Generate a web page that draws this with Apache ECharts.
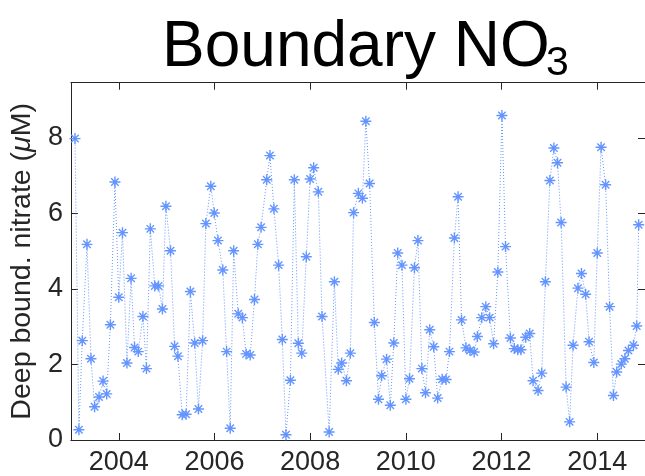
<!DOCTYPE html>
<html>
<head>
<meta charset="utf-8">
<script src="https://cdn.jsdelivr.net/npm/echarts@6/dist/echarts.min.js"></script>
<style>
html,body{margin:0;padding:0;background:#fff;}
#c{width:645px;height:476px;}
</style>
</head>
<body>
<div id="c"></div>
<script>
// Decimal year of each sample
const years = [
2003.085,2003.167,2003.237,2003.336,2003.419,2003.495,2003.588,2003.672,2003.748,2003.825,2003.920,
2004.000,2004.078,2004.171,2004.258,2004.330,2004.408,2004.505,2004.579,2004.660,2004.753,2004.831,2004.913,2004.986,
2005.082,2005.167,2005.237,2005.326,2005.408,2005.497,2005.588,2005.666,2005.753,2005.821,2005.924,2005.996,
2006.074,2006.175,2006.254,2006.330,2006.402,2006.497,2006.584,2006.662,2006.748,2006.837,2006.907,2006.975,
2007.093,2007.161,2007.243,2007.342,2007.419,2007.495,2007.588,2007.670,2007.753,2007.825,2007.920,2008.000,
2008.074,2008.171,2008.249,2008.398,2008.507,2008.588,2008.660,2008.759,2008.841,2008.909,
2009.008,2009.093,2009.165,2009.243,2009.342,2009.429,2009.495,2009.598,2009.676,2009.749,2009.831,2009.920,
2010.002,2010.078,2010.181,2010.254,2010.336,2010.412,2010.501,2010.584,2010.666,2010.759,2010.841,2010.913,
2011.016,2011.093,2011.165,2011.258,2011.342,2011.429,2011.497,2011.588,2011.672,2011.753,2011.835,2011.924,
2012.010,2012.085,2012.186,2012.268,2012.340,2012.408,2012.507,2012.590,2012.660,2012.765,2012.841,2012.918,
2013.012,2013.095,2013.171,2013.247,2013.351,2013.425,2013.497,2013.598,2013.672,2013.759,2013.831,2013.930,
2014.002,2014.082,2014.177,2014.260,2014.340,2014.408,2014.505,2014.579,2014.654,2014.759,2014.827,2014.868
];
// Deep boundary nitrate (uM)
const nitrate = [
7.98,0.27,2.63,5.18,2.15,0.88,1.14,1.56,1.22,3.05,6.83,
3.78,5.49,2.04,4.28,2.45,2.34,3.27,1.89,5.59,4.08,4.08,3.47,6.19,
5.01,2.48,2.22,0.67,0.68,3.93,2.57,0.82,2.63,5.73,6.72,6.01,
5.28,4.50,2.34,0.31,5.01,3.34,3.24,2.28,2.25,3.72,5.18,5.63,
6.89,7.53,6.12,4.63,2.66,0.14,1.58,6.89,2.56,2.30,4.85,6.91,
7.21,6.57,3.27,0.21,4.19,1.87,2.04,1.57,2.30,6.02,
6.53,6.40,8.44,6.79,3.11,1.08,1.70,2.14,0.92,2.57,4.95,4.63,
1.08,1.62,4.56,5.28,1.89,1.25,2.92,2.47,1.11,1.61,1.60,2.34,
5.35,6.44,3.18,2.44,2.37,2.33,2.74,3.24,3.53,3.24,2.55,4.45,
8.59,5.12,2.70,2.42,2.39,2.39,2.72,2.82,1.57,1.31,1.77,4.19,
6.87,7.73,7.34,5.76,1.40,0.48,2.51,4.02,4.41,3.86,2.60,2.05,
4.95,7.75,6.76,3.53,1.18,1.80,2.01,2.15,2.37,2.51,3.02,5.70
];
const xTicks = [2004, 2006, 2008, 2010, 2012, 2014];
const yTicks = [0, 2, 4, 6, 8];

const FONT = 'Liberation Sans, Arial, Helvetica, sans-serif';
const AX = '#262626';
const BLUE = '#6495ff';
const chart = echarts.init(document.getElementById('c'), null, {renderer: 'canvas'});
const pts = years.map((y, i) => [y, nitrate[i]]);
const star = 'path://M5 0L5 10M0 5L10 5M1.6 1.6L8.4 8.4M1.6 8.4L8.4 1.6';

const tickStyle = {show: true, inside: true, length: 7, lineStyle: {color: AX, width: 1}};
chart.setOption({
  animation: false,
  backgroundColor: '#fff',
  grid: {left: 68.2, right: -5.2, top: 82.7, bottom: 33.3, containLabel: false},
  graphic: [
    {type: 'text', left: 162, top: 16, style: {text: 'Boundary NO', font: '64px ' + FONT, fill: '#000'}},
    {type: 'text', left: 546, top: 43, style: {text: '3', font: '41px ' + FONT, fill: '#000'}}
  ],
  xAxis: [
    {type: 'value', position: 'bottom', min: 2003, max: 2015,
     axisLine: {show: true, onZero: false, lineStyle: {color: AX, width: 1}},
     axisTick: Object.assign({customValues: xTicks}, tickStyle),
     axisLabel: {customValues: xTicks, formatter: v => String(v), fontSize: 27, fontFamily: FONT, color: AX, margin: 9},
     splitLine: {show: false}},
    {type: 'value', position: 'top', min: 2003, max: 2015,
     axisLine: {show: true, onZero: false, lineStyle: {color: AX, width: 1}},
     axisTick: Object.assign({customValues: xTicks}, tickStyle),
     axisLabel: {show: false}, splitLine: {show: false}}
  ],
  yAxis: [
    {type: 'value', position: 'left', min: 0, max: 9.46,
     name: 'Deep bound. nitrate ({i|μ}M)', nameLocation: 'middle', nameGap: 31,
     nameTextStyle: {fontSize: 28.5, fontFamily: FONT, color: AX,
       rich: {i: {fontSize: 28.5, fontFamily: FONT, fontStyle: 'italic', color: AX}}},
     axisLine: {show: true, onZero: false, lineStyle: {color: AX, width: 1}},
     axisTick: Object.assign({customValues: yTicks}, tickStyle),
     axisLabel: {customValues: yTicks, fontSize: 27, fontFamily: FONT, color: AX, margin: 8},
     splitLine: {show: false}},
    {type: 'value', position: 'right', min: 0, max: 9.46,
     axisLine: {show: true, onZero: false, lineStyle: {color: AX, width: 1}},
     axisTick: Object.assign({customValues: yTicks}, tickStyle),
     axisLabel: {show: false}, splitLine: {show: false}}
  ],
  series: [{
    type: 'line', data: pts, xAxisIndex: 0, yAxisIndex: 0,
    symbol: star, symbolSize: 11, showAllSymbol: true,
    itemStyle: {color: 'rgba(0,0,0,0)', borderColor: BLUE, borderWidth: 1.4},
    lineStyle: {color: BLUE, width: 1, type: [1, 2]},
    emphasis: {disabled: true}, silent: true
  }]
});
</script>
</body>
</html>
